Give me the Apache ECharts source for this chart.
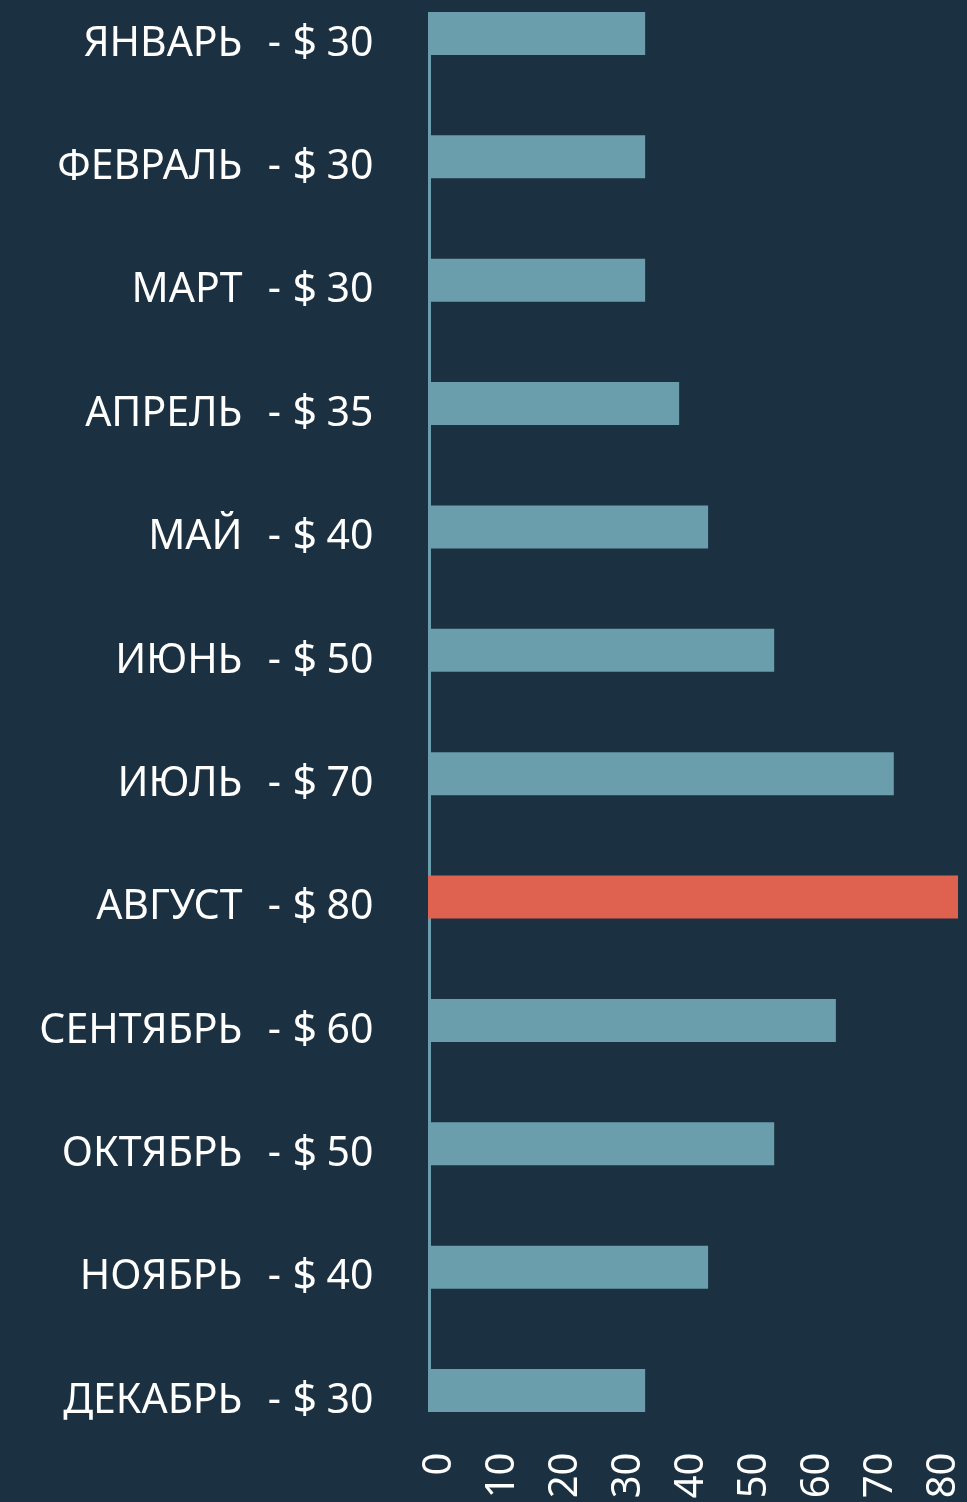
<!DOCTYPE html>
<html>
<head>
<meta charset="utf-8">
<script src="https://cdn.jsdelivr.net/npm/echarts@6/dist/echarts.min.js"></script>
<style>
html,body{margin:0;padding:0;background:#1b3040;}
#c1{width:967px;height:1502px;}
</style>
</head>
<body>
<div id="c1"></div>
<script type="text/javascript">
// месяцы и подписи
var months = ['ЯНВАРЬ','ФЕВРАЛЬ','МАРТ','АПРЕЛЬ','МАЙ','ИЮНЬ','ИЮЛЬ','АВГУСТ','СЕНТЯБРЬ','ОКТЯБРЬ','НОЯБРЬ','ДЕКАБРЬ'];
var prices = [30,30,30,35,40,50,70,80,60,50,40,30];
// длина полос, считанная по оси
var barLengths = [34.5,34.5,34.5,39.9,44.5,55.0,74.0,84.2,64.8,55.0,44.5,34.5];
var highlight = 'АВГУСТ';

var barColor = '#6a9eac';
var hotColor = '#de624f';

var chart = echarts.init(document.getElementById('c1'));
var option = {
    backgroundColor:'#1b3040',
    animation:false,
    grid:{
        left:428,
        right:9,
        top:33.5,
        bottom:111.5,
        containLabel:false,
        outerBoundsMode:'none'
    },
    xAxis:{
        type:'value',
        min:0,
        max:84.2,
        interval:10,
        axisLine:{show:false},
        axisTick:{show:false},
        splitLine:{show:false},
        axisLabel:{
            show:true,
            rotate:90,
            margin:62,
            color:'#ffffff',
            fontFamily:'Noto Sans',
            fontSize:40,
            verticalAlign:'top',
            lineHeight:24,
            showMaxLabel:false,
            formatter:function(v){
                return v % 10 === 0 ? String(v) : '';
            }
        }
    },
    yAxis:{
        type:'category',
        inverse:true,
        boundaryGap:false,
        data:months,
        offset:-1.5,
        axisLine:{show:true,lineStyle:{color:barColor,width:3}},
        axisTick:{show:false},
        splitLine:{show:false},
        axisLabel:{
            margin:56,
            padding:[21,0,0,0],
            color:'#ffffff',
            fontFamily:'Noto Sans',
            fontSize:41,
            formatter:function(value,index){
                return '{m|' + value + '}{d|-}{s|$}{n|' + prices[index] + '}';
            },
            rich:{
                m:{width:230,align:'right',color:'#ffffff',fontFamily:'Noto Sans',fontSize:41},
                d:{width:38.5,align:'right',color:'#ffffff',fontFamily:'Noto Sans',fontSize:41},
                s:{width:36,align:'right',color:'#ffffff',fontFamily:'Noto Sans',fontSize:43},
                n:{width:56.5,align:'right',color:'#ffffff',fontFamily:'Noto Sans',fontSize:41}
            }
        }
    },
    series:[
        {
            name:'цена',
            type:'bar',
            barWidth:43,
            clip:false,
            data:barLengths.map(function(v,i){
                return {
                    value:v,
                    itemStyle:{color: months[i] === highlight ? hotColor : barColor}
                };
            })
        }
    ]
};
chart.setOption(option);
</script>
</body>
</html>
